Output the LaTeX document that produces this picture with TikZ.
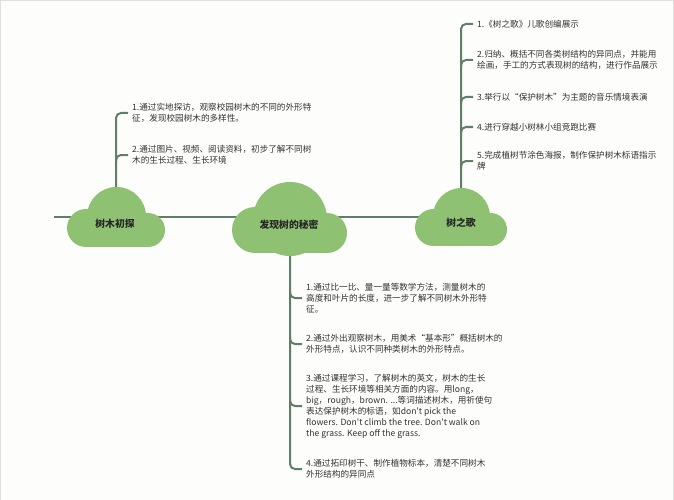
\documentclass[tikz,border=0pt]{standalone}
\usepackage{fontspec}
\newfontfamily\cjk{Noto Sans CJK SC}
\usetikzlibrary{calc}
\definecolor{linegreen}{RGB}{95,128,102}
\definecolor{cloudgreen}{RGB}{143,193,115}
\definecolor{textgray}{RGB}{51,51,51}
\definecolor{bgwhite}{RGB}{253,253,251}
\tikzset{
  branch/.style={draw=linegreen, line width=2pt, rounded corners=5pt},
  item/.style={anchor=west, align=left, inner xsep=4pt, inner ysep=0pt, text=textgray, font=\cjk\fontsize{8.6}{11}\selectfont},
  title/.style={font=\cjk\bfseries\fontsize{9.8}{12}\selectfont, text=black!85},
  cloudpart/.style={fill=cloudgreen}
}
\begin{document}
\begin{tikzpicture}[x=1pt,y=-1pt]
  \useasboundingbox (0,0) rectangle (674,500);
  \fill[bgwhite] (0,0) rectangle (674,500);
  \draw[black!12, line width=1pt] (0.5,500) -- (0.5,0.5) -- (673.5,0.5) -- (673.5,500);
  % centres of the three clouds on the main line
  \coordinate (m0) at (54,217);
  \coordinate (c1) at (116,217);
  \coordinate (c2) at (290,217);
  \coordinate (c3) at (461,217);
  % 树木初探
  \node[item] (a1) at (128,113) {1.通过实地探访，观察校园树木的不同的外形特\\征，发现校园树木的多样性。};
  \node[item] (a2) at (128,155) {2.通过图片、视频、阅读资料，初步了解不同树\\木的生长过程、生长环境};
  % 树之歌
  \node[item] (b1) at (473,24) {1.《树之歌》儿歌创编展示};
  \node[item] (b2) at (473,60) {2.归纳、概括不同各类树结构的异同点，并能用\\绘画，手工的方式表现树的结构，进行作品展示};
  \node[item] (b3) at (473,97) {3.举行以“保护树木”为主题的音乐情境表演};
  \node[item] (b4) at (473,127) {4.进行穿越小树林小组竞跑比赛};
  \node[item] (b5) at (473,161) {5.完成植树节涂色海报，制作保护树木标语指示\\牌};
  % 发现树的秘密
  \node[item] (d1) at (302,298) {1.通过比一比、量一量等数学方法，测量树木的\\高度和叶片的长度，进一步了解不同树木外形特\\征。};
  \node[item] (d2) at (302,344) {2.通过外出观察树木，用美术“基本形”概括树木的\\外形特点，认识不同种类树木的外形特点。};
  \node[item] (d3) at (302,406) {3.通过课程学习，了解树木的英文，树木的生长\\过程、生长环境等相关方面的内容。用long，\\big，rough，brown. ...等词描述树木，用祈使句\\表达保护树木的标语，如don't pick the\\flowers. Don't climb the tree. Don't walk on\\the grass. Keep off the grass.};
  \node[item] (d4) at (302,469) {4.通过拓印树干、制作植物标本，清楚不同树木\\外形结构的异同点};
  % connectors
  \draw[branch] (m0) -- (c1) -- (c2) -- (c3);
  \draw[branch] (c1) |- (a1.west);
  \draw[branch] ($(c1 |- a2.west)+(0,7)$) |- (a2.west);
  \draw[branch] (c3) |- (b1.west);
  \foreach \n in {b2,b3,b4,b5}
    \draw[branch] ($(c3 |- \n.west)+(0,7)$) |- (\n.west);
  \draw[branch] (c2) |- (d4.west);
  \foreach \n in {d1,d2,d3}
    \draw[branch] ($(c2 |- \n.west)+(0,-7)$) |- (\n.west);
  % clouds
  \fill[cloudpart] (116.5,216.5) circle[radius=29.5];
  \fill[cloudpart] (86,228) circle[radius=19];
  \fill[cloudpart] (148,230) circle[radius=17];
  \fill[cloudpart] (86,216) rectangle (148,247);
  \fill[cloudpart] (290,219) circle[radius=37];
  \fill[cloudpart] (255,230) circle[radius=23];
  \fill[cloudpart] (327,233) circle[radius=20];
  \fill[cloudpart] (255,219) rectangle (327,253);
  \fill[cloudpart] (461.5,216.5) circle[radius=28.5];
  \fill[cloudpart] (433.5,227.5) circle[radius=18.5];
  \fill[cloudpart] (490.5,229.5) circle[radius=16.5];
  \fill[cloudpart] (433.5,216.5) rectangle (490.5,246);
  \node[title] (t1) at (115,224) {树木初探};
  \node[title] (t2) at (289,225) {发现树的秘密};
  \node[title] (t3) at (461,223) {树之歌};
\end{tikzpicture}
\end{document}
